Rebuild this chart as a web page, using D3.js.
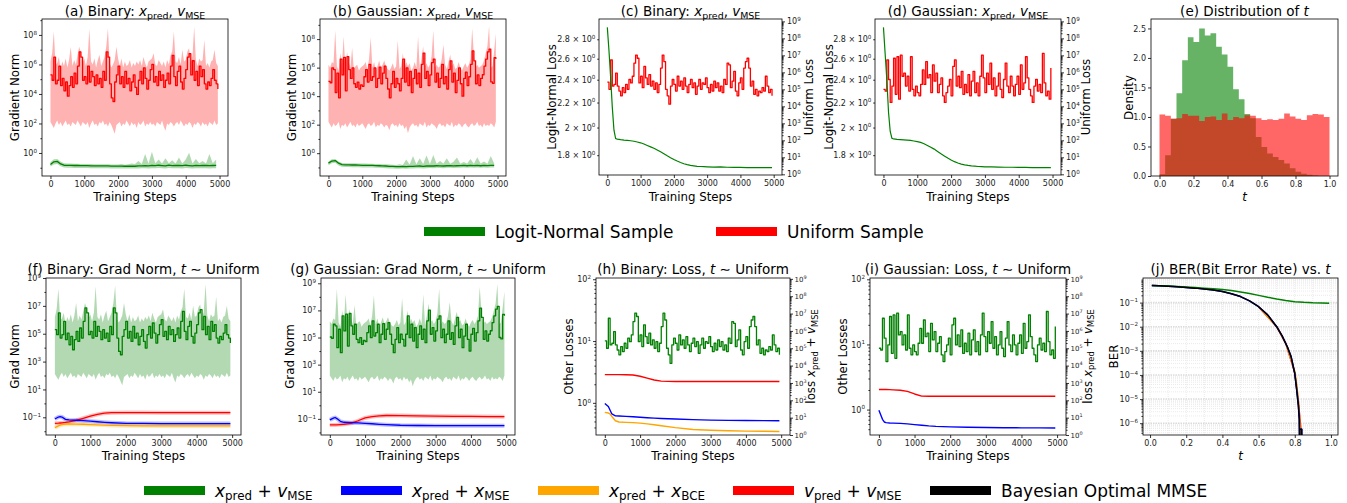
<!DOCTYPE html>
<html><head><meta charset="utf-8">
<script src="https://cdn.jsdelivr.net/npm/d3@7"></script>
<style>
body{margin:0;background:#fff;}
text{white-space:pre;}
</style></head><body>
<script>
// ---------- data (log10 values unless noted) ----------
const stepsFine = d3.range(0, 5000, 50);    // 100 logged steps
const stepsCoarse = d3.range(0, 5000, 100); // 50 logged steps

// grad norm, binary, t ~ Uniform, x_pred + v_MSE  -> (a) red, (f) green
const gradUniBin = [5.29,4.93,6.49,4.69,4.93,5.89,4.57,5.05,4.21,4.81,
 3.85,4.57,5.17,4.45,5.41,4.69,5.89,6.85,6.49,4.93,
 5.17,4.69,5.89,4.81,5.53,5.17,4.57,5.29,4.69,5.05,
 4.45,5.53,4.93,6.85,6.49,4.69,3.73,3.49,4.81,5.29,
 5.89,4.69,5.17,4.45,5.53,4.69,5.05,4.21,4.81,5.29,
 4.45,3.97,4.93,5.53,4.69,5.77,5.05,4.33,4.93,5.65,
 6.01,4.81,5.17,4.57,5.53,4.93,5.29,4.45,4.93,5.41,
 4.69,5.89,6.61,5.17,4.57,5.53,5.89,4.81,4.33,5.05,
 5.65,6.49,6.73,5.29,6.25,4.93,5.53,4.57,5.89,5.17,
 5.65,4.69,4.33,4.81,4.57,5.05,5.65,4.93,4.69,4.33];
const gradUniBinHi = [6.2,6.76,8.23,6.0,6.1,6.5,5.7,6.2,5.9,6.4,
 5.8,6.3,7.2,5.9,6.3,6.0,6.6,7.2,6.8,6.1,
 6.4,5.9,6.5,8.4,6.2,6.0,6.4,5.8,6.3,6.65,
 5.9,6.2,6.5,7.2,8.45,6.1,5.8,6.0,6.3,7.2,
 6.4,5.9,6.4,5.8,6.2,5.9,6.0,6.3,5.8,6.1,
 5.9,6.2,6.0,6.3,5.9,6.5,6.1,5.8,6.2,6.3,
 6.4,6.76,6.0,5.9,6.3,6.1,5.9,6.2,5.8,6.3,
 6.0,6.6,6.9,8.23,6.2,6.1,6.5,6.0,7.0,6.2,
 6.3,6.9,7.1,6.1,6.6,8.56,6.3,5.9,6.4,6.2,
 6.3,7.66,5.9,6.1,5.8,6.2,6.3,7.0,6.1,5.9];
const gradUniBinLo = [2.1,1.9,1.7,2.0,2.2,1.9,2.1,1.8,2.0,2.2,
 1.9,2.0,1.8,2.1,2.0,1.9,2.2,2.0,1.8,2.1,
 2.0,1.9,2.1,1.7,2.0,2.2,1.9,2.0,1.8,2.1,
 2.0,2.2,1.9,2.0,1.8,2.1,1.9,1.6,1.3,1.9,
 2.0,2.1,1.8,2.0,1.9,2.2,2.0,1.8,2.1,1.9,
 2.0,1.7,2.1,1.9,2.0,2.2,1.8,2.0,1.9,2.1,
 1.9,2.0,1.8,2.1,2.0,1.9,2.2,1.8,1.5,2.0,
 1.9,2.1,2.0,1.8,2.0,2.1,1.9,2.2,2.0,1.8,
 2.0,1.9,2.1,2.0,1.7,2.0,1.9,2.1,2.0,1.8,
 2.1,1.9,2.0,1.8,2.1,2.0,1.9,2.2,1.9,2.0];

// grad norm, gaussian, t ~ Uniform -> (b) red, (g) green
const gradUniGau = [5.04,4.94,5.98,5.86,4.25,5.61,3.88,6.60,5.49,6.72,
 4.37,6.77,5.86,5.24,5.98,4.87,4.62,4.99,4.50,4.79,
 4.69,5.36,5.86,4.99,6.23,5.11,5.36,5.98,4.62,5.24,
 6.03,4.87,5.61,6.10,5.24,4.50,3.88,4.87,5.73,4.62,
 5.24,4.87,4.37,5.24,6.60,4.99,5.98,4.74,5.73,4.25,
 5.24,5.86,4.87,5.61,4.62,6.23,7.02,5.24,5.73,4.74,
 5.49,6.35,6.60,4.99,5.61,4.62,5.24,6.23,4.87,5.36,
 4.50,5.86,6.48,4.99,5.61,4.25,5.11,5.98,4.87,4.00,
 5.24,5.68,4.74,5.36,6.23,7.17,6.48,4.87,5.49,4.74,
 5.24,5.50,6.10,6.60,7.10,7.30,5.00,4.90,6.70,6.60];
const gradUniGauHi = [6.2,6.0,6.4,6.3,8.6,6.1,5.8,7.0,6.2,8.2,
 5.9,7.1,6.4,6.0,7.4,5.9,6.1,6.2,5.8,6.0,
 6.1,6.2,6.4,5.9,6.6,8.1,6.0,6.4,5.8,6.1,
 6.5,6.0,6.2,6.5,6.1,5.9,5.8,6.0,6.3,5.9,
 6.1,7.9,5.9,6.1,7.0,6.0,6.4,6.1,6.3,5.8,
 6.0,6.4,6.0,8.2,5.9,6.6,7.5,6.1,6.3,6.0,
 6.2,6.8,8.6,6.0,6.2,6.0,6.1,6.6,7.6,6.2,
 5.9,6.4,6.9,6.1,6.3,5.9,6.0,6.4,6.0,5.8,
 6.1,6.3,6.0,6.2,6.6,8.75,6.9,6.0,6.2,6.0,
 6.1,6.2,6.5,7.0,7.5,8.94,6.0,6.1,7.2,8.4];
const gradUniGauLo = [2.2,2.0,1.8,2.1,1.9,2.0,2.2,1.7,2.0,1.9,
 2.1,1.8,2.0,2.2,1.9,2.0,1.8,2.1,1.9,2.0,
 2.1,1.9,1.7,2.0,2.1,1.9,2.0,2.2,1.8,2.0,
 1.9,2.1,2.0,1.8,2.0,1.9,1.6,2.0,2.1,1.9,
 2.0,1.8,2.1,1.9,2.0,1.7,1.9,1.4,1.8,2.0,
 2.1,1.9,2.0,1.8,2.1,2.0,1.9,2.2,1.8,2.0,
 1.9,2.1,2.0,1.9,1.7,2.0,2.1,1.9,2.0,1.8,
 2.1,2.0,1.9,2.2,1.8,2.0,1.9,2.1,2.0,1.8,
 2.0,2.1,1.9,1.8,2.0,2.1,1.9,2.0,2.2,1.9,
 2.0,1.8,2.1,1.9,2.0,1.9,2.1,2.0,1.8,2.2];

// grad norm, t ~ Logit-Normal -> (a), (b) green
const gradLNBin = [-0.78,-0.60,-0.57,-0.74,-0.83,-0.84,-0.84,-0.85,-0.85,-0.86,
 -0.86,-0.86,-0.87,-0.87,-0.87,-0.88,-0.88,-0.88,-0.89,-0.89,
 -0.89,-0.89,-0.90,-0.90,-0.89,-0.90,-0.88,-0.87,-0.85,-0.88,
 -0.84,-0.86,-0.83,-0.85,-0.87,-0.82,-0.86,-0.84,-0.85,-0.86,
 -0.83,-0.85,-0.87,-0.84,-0.86,-0.85,-0.84,-0.86,-0.85,-0.84];
const gradLNBinHi = [-0.62,-0.42,-0.40,-0.58,-0.70,-0.72,-0.72,-0.73,-0.73,-0.74,
 -0.74,-0.75,-0.75,-0.76,-0.76,-0.77,-0.77,-0.77,-0.78,-0.78,
 -0.78,-0.75,-0.79,-0.76,-0.72,-0.74,-0.55,-0.74,-0.07,-0.72,
 0.09,-0.70,-0.45,-0.72,-0.35,-0.70,-0.50,-0.72,-0.30,-0.71,
 -0.45,0.02,-0.72,-0.40,-0.70,-0.55,-0.72,-0.07,-0.70,-0.45];
const gradLNBinLo = [-0.92,-0.78,-0.74,-0.90,-0.98,-1.00,-1.00,-1.01,-1.01,-1.02,
 -1.02,-1.02,-1.03,-1.03,-1.03,-1.04,-1.04,-1.04,-1.05,-1.05,
 -1.05,-1.05,-1.06,-1.06,-1.05,-1.06,-1.05,-1.04,-1.03,-1.05,
 -1.03,-1.04,-1.02,-1.04,-1.05,-1.02,-1.04,-1.03,-1.04,-1.05,
 -1.02,-1.04,-1.05,-1.03,-1.04,-1.04,-1.03,-1.05,-1.04,-1.03];
const gradLNGau = [-0.70,-0.55,-0.52,-0.70,-0.80,-0.82,-0.82,-0.83,-0.83,-0.84,
 -0.85,-0.85,-0.86,-0.86,-0.87,-0.88,-0.89,-0.90,-0.92,-0.93,
 -0.94,-0.94,-0.93,-0.94,-0.92,-0.93,-0.91,-0.90,-0.92,-0.90,
 -0.89,-0.90,-0.88,-0.89,-0.90,-0.88,-0.87,-0.89,-0.88,-0.87,
 -0.86,-0.88,-0.86,-0.87,-0.86,-0.88,-0.86,-0.87,-0.86,-0.85];
const gradLNGauHi = [-0.58,-0.42,-0.40,-0.58,-0.68,-0.70,-0.70,-0.71,-0.71,-0.72,
 -0.73,-0.73,-0.74,-0.74,-0.75,-0.76,-0.77,-0.78,-0.80,-0.81,
 -0.82,-0.78,-0.82,-0.45,-0.80,-0.20,-0.78,-0.35,-0.76,-0.16,
 -0.75,-0.12,-0.74,-0.55,-0.73,-0.35,-0.74,-0.60,-0.30,-0.74,
 -0.62,-0.73,-0.40,-0.74,-0.28,-0.73,-0.58,-0.74,-0.20,-0.72];
const gradLNGauLo = [-0.85,-0.70,-0.67,-0.86,-0.95,-0.97,-0.97,-0.98,-0.98,-0.99,
 -1.00,-1.00,-1.01,-1.01,-1.02,-1.03,-1.04,-1.05,-1.07,-1.08,
 -1.09,-1.09,-1.08,-1.09,-1.07,-1.08,-1.06,-1.05,-1.07,-1.05,
 -1.04,-1.05,-1.03,-1.04,-1.05,-1.03,-1.02,-1.04,-1.03,-1.02,
 -1.01,-1.03,-1.01,-1.02,-1.01,-1.03,-1.01,-1.02,-1.01,-1.00];

// loss, t ~ Uniform, x_pred + v_MSE -> (c) red / (h) green, (d) red / (i) green
const lossUniBin = [5.42,5.00,6.73,5.19,5.29,5.96,5.19,4.90,4.62,5.10,
 4.81,5.29,5.00,5.58,5.38,5.77,6.54,7.02,6.83,5.38,
 5.77,5.10,6.35,5.67,5.29,5.87,5.19,5.48,5.00,5.38,
 4.81,5.29,6.25,7.02,6.63,5.00,4.62,4.13,5.19,5.58,
 5.29,4.90,5.77,5.19,5.48,5.00,5.67,5.19,4.81,5.29,
 5.58,5.10,5.38,4.71,5.19,5.58,5.00,5.38,5.29,5.67,
 5.10,4.81,5.29,4.90,5.48,5.10,5.38,4.90,5.19,4.81,
 5.58,5.29,6.54,6.44,5.10,5.48,6.06,4.90,4.62,5.38,
 5.67,5.00,6.25,6.63,6.83,6.25,5.19,5.48,4.71,5.00,
 4.62,4.90,4.81,5.10,4.90,5.77,5.19,4.81,5.00,4.62];
const lossUniGau = [5.00,4.90,6.73,5.58,4.23,5.19,6.83,4.71,6.92,4.42,
 7.02,5.77,5.96,5.19,5.77,4.90,6.92,5.00,4.62,5.19,
 4.81,4.62,5.29,6.15,5.29,6.63,5.67,5.87,4.81,6.44,
 5.48,5.96,4.81,5.29,5.67,4.62,4.23,4.81,5.19,5.58,
 4.62,6.35,6.73,5.19,5.77,5.10,6.06,4.71,5.29,4.81,
 5.87,4.62,5.48,6.06,4.81,5.38,4.62,5.77,7.02,5.67,
 4.81,5.96,5.29,6.54,5.00,5.67,4.62,5.19,5.96,5.00,
 4.52,5.58,6.54,5.19,4.81,5.77,5.19,4.62,5.29,5.77,
 4.71,6.44,5.00,5.38,6.92,5.67,5.00,4.62,4.23,5.19,
 5.58,4.90,5.29,4.81,7.12,5.38,4.62,4.90,4.42,6.25];

// loss, t ~ Logit-Normal (linear values) -> (c), (d) green
const lossLNSteps = [0,50,100,150,200,250,300,400,500,600,700,800,900,1000,1100,1200,1300,1400,1500,1600,1700,1800,1900,2000,2100,2200,2300,2400,2500,2600,2700,2800,2900,3000,3200,3400,3600,3800,4000,4200,4400,4600,4800,4950];
const lossLNBin = [2.93,2.68,2.42,2.16,1.98,1.918,1.914,1.910,1.907,1.905,1.902,1.898,1.893,1.887,1.878,1.868,1.858,1.848,1.836,1.823,1.810,1.796,1.783,1.771,1.760,1.750,1.742,1.736,1.731,1.728,1.725,1.724,1.723,1.722,1.720,1.721,1.719,1.718,1.718,1.717,1.717,1.716,1.716,1.716];
const lossLNGau = [2.93,2.65,2.40,2.12,1.97,1.920,1.915,1.912,1.910,1.908,1.906,1.904,1.900,1.896,1.890,1.880,1.868,1.855,1.842,1.826,1.810,1.795,1.780,1.767,1.756,1.747,1.740,1.735,1.731,1.728,1.726,1.724,1.723,1.722,1.721,1.720,1.719,1.719,1.718,1.718,1.717,1.717,1.717,1.717];

// (e) histogram densities, 30 bins on [0, 1]
const tBinEdges = d3.range(31).map(i => i / 30);
const densLN = [0.03,0.35,0.97,1.40,1.96,2.35,2.27,2.50,2.38,2.42,2.19,2.06,1.85,1.47,1.30,1.05,0.98,0.66,0.49,0.38,0.32,0.27,0.21,0.13,0.07,0.04,0.02,0.01,0.0,0.0];
const densUni = [1.04,1.02,0.97,0.98,1.05,1.02,1.02,0.93,1.00,1.01,0.95,1.06,0.95,1.00,0.98,1.03,1.02,0.98,0.95,0.96,0.95,0.97,1.06,1.01,0.97,0.95,1.03,1.05,1.04,1.00];

// smooth baselines, t ~ Uniform
const smoothSteps = [0,100,150,200,300,400,600,800,1000,1200,1400,1600,2000,2500,3000,3500,4000,4500,4950];
const fRed    = [-1.43,-1.42,-1.41,-1.40,-1.37,-1.33,-1.22,-1.07,-0.92,-0.79,-0.70,-0.67,-0.66,-0.66,-0.67,-0.67,-0.67,-0.67,-0.67];
const fBlue   = [-1.12,-0.98,-0.95,-0.98,-1.15,-1.19,-1.21,-1.24,-1.28,-1.32,-1.36,-1.39,-1.43,-1.44,-1.45,-1.45,-1.45,-1.45,-1.45];
const fOrange = [-1.74,-1.62,-1.57,-1.53,-1.49,-1.48,-1.49,-1.50,-1.52,-1.54,-1.56,-1.58,-1.60,-1.61,-1.62,-1.62,-1.62,-1.62,-1.62];
const gRed    = [-1.45,-1.45,-1.45,-1.44,-1.42,-1.40,-1.33,-1.14,-0.93,-0.83,-0.78,-0.75,-0.76,-0.78,-0.80,-0.81,-0.82,-0.83,-0.84];
const gBlue   = [-1.07,-0.95,-0.90,-0.98,-1.18,-1.25,-1.28,-1.30,-1.33,-1.36,-1.40,-1.43,-1.47,-1.49,-1.50,-1.50,-1.50,-1.50,-1.50];
const hRed    = [0.457,0.457,0.457,0.457,0.457,0.456,0.455,0.450,0.430,0.400,0.370,0.352,0.346,0.346,0.346,0.346,0.346,0.346,0.346];
const hBlue   = [-0.01,-0.06,-0.12,-0.18,-0.21,-0.213,-0.218,-0.225,-0.232,-0.24,-0.247,-0.253,-0.262,-0.272,-0.279,-0.283,-0.286,-0.288,-0.289];
const hOrange = [-0.154,-0.165,-0.18,-0.22,-0.29,-0.31,-0.316,-0.32,-0.328,-0.34,-0.355,-0.37,-0.40,-0.43,-0.444,-0.452,-0.457,-0.46,-0.463];
const iRed    = [0.308,0.308,0.308,0.308,0.306,0.303,0.297,0.280,0.240,0.207,0.205,0.205,0.205,0.205,0.205,0.205,0.205,0.205,0.205];
const iBlue   = [-0.01,-0.15,-0.19,-0.20,-0.205,-0.208,-0.212,-0.22,-0.23,-0.24,-0.25,-0.257,-0.265,-0.272,-0.276,-0.278,-0.28,-0.281,-0.282];

// (j) BER vs t (log10)
const berGreenT = [0.01,0.05,0.10,0.15,0.20,0.25,0.30,0.35,0.40,0.45,0.50,0.55,0.60,0.65,0.70,0.75,0.80,0.85,0.90,0.95,0.99];
const berGreen  = [-0.29,-0.30,-0.31,-0.33,-0.35,-0.37,-0.40,-0.43,-0.46,-0.50,-0.56,-0.62,-0.70,-0.78,-0.85,-0.91,-0.96,-0.99,-1.01,-1.02,-1.03];
const berBlackT = [0.01,0.05,0.10,0.15,0.20,0.25,0.30,0.35,0.40,0.45,0.50,0.55,0.60,0.65,0.70,0.73,0.76,0.78,0.80,0.81,0.82,0.825,0.8275,0.8276,0.8385,0.8386];
const berBlack  = [-0.29,-0.30,-0.32,-0.34,-0.37,-0.40,-0.44,-0.48,-0.54,-0.63,-0.75,-0.93,-1.17,-1.51,-2.00,-2.38,-2.85,-3.25,-3.94,-4.57,-5.26,-5.82,-7.5,-6.25,-6.25,-7.5];
const berOrangeT = [0.60,0.70,0.75,0.80,0.81,0.815,0.82,0.825,0.83,0.832];
const berOrange  = [-1.17,-2.00,-2.69,-3.85,-4.35,-4.70,-5.10,-5.60,-6.30,-7.5];
const berRedT = [0.60,0.70,0.75,0.80,0.81,0.82,0.826,0.832,0.836,0.837];
const berRed  = [-1.17,-2.00,-2.69,-3.90,-4.45,-5.10,-5.60,-6.10,-6.45,-7.5];

// ---------- drawing ----------
const FONT = '"DejaVu Sans", sans-serif';
const TICK_FS = 8, LABEL_FS = 11.8, TITLE_FS = 13.5, LEG_FS = 17;
const GREEN = '#008000', RED = '#ff0000', BLUE = '#0000ff', ORANGE = '#ffa500';
const STEP_X = [-250, 5250];

const svg = d3.select('body').append('svg').attr('width', 1347).attr('height', 503)
  .style('font-family', FONT);

// mathtext-ish: parts = [[text, kind]] kind: '' | 'i' | 'sub' | 'sup'
function mtext(t, parts, fs) {
  let shift = 0;
  parts.forEach(([s, kind]) => {
    let target = 0, size = fs;
    if (kind === 'sub') { target = 0.22 * fs; size = 0.7 * fs; }
    if (kind === 'sup') { target = -0.42 * fs; size = 0.7 * fs; }
    const sp = t.append('tspan').text(s).attr('font-size', size);
    if (target !== shift) sp.attr('dy', target - shift);
    if (kind === 'i') sp.attr('font-style', 'italic');
    shift = target;
  });
}
const pow10 = k => [['10', ''], [String(k).replace('-', '\u2212'), 'sup']];
const X = (s) => [['x', 'i'], [s, 'sub']];
const V = (s) => [['v', 'i'], [s, 'sub']];
const p10 = v => Math.pow(10, v);

const LAYOUT = {
  a: {l: 42, r: 228, t: 19, b: 176},
  b: {l: 320, r: 506, t: 19, b: 176},
  c: {l: 599, r: 782, t: 19, b: 175},
  d: {l: 875, r: 1061, t: 19, b: 175},
  e: {l: 1151, r: 1338, t: 19, b: 176},
  f: {l: 46, r: 241, t: 278, b: 435},
  g: {l: 321, r: 515, t: 278, b: 435},
  h: {l: 596, r: 790, t: 278, b: 435},
  i: {l: 870, r: 1066, t: 278, b: 435},
  j: {l: 1143, r: 1338, t: 278, b: 435}
};

function panel(key, xd, yd, ylog, y2d) {
  const p = LAYOUT[key];
  const x = d3.scaleLinear().domain(xd).range([p.l, p.r]);
  const y = (ylog ? d3.scaleLog() : d3.scaleLinear()).domain(yd).range([p.b, p.t]);
  const y2 = y2d ? d3.scaleLog().domain(y2d).range([p.b, p.t]) : null;
  svg.append('clipPath').attr('id', 'clip-' + key).append('rect')
    .attr('x', p.l).attr('y', p.t).attr('width', p.r - p.l).attr('height', p.b - p.t);
  const plot = svg.append('g').attr('clip-path', `url(#clip-${key})`);
  return {key, p, x, y, y2, plot};
}

function styleAxis(a, fs) {
  a.select('.domain').remove();
  a.attr('font-family', null).attr('font-size', fs || TICK_FS);
  a.selectAll('.tick line').attr('stroke', '#000').attr('stroke-width', 0.8);
  a.selectAll('.tick text').attr('fill', '#222');
  return a;
}
function xAxis(P, ticks, fmt) {
  styleAxis(svg.append('g').attr('transform', `translate(0,${P.p.b})`)
    .call(d3.axisBottom(P.x).tickValues(ticks).tickSize(3).tickPadding(2).tickFormat(fmt)));
}
function linAxisY(P, ticks, fmt) {
  styleAxis(svg.append('g').attr('transform', `translate(${P.p.l},0)`)
    .call(d3.axisLeft(P.y).tickValues(ticks).tickSize(3).tickPadding(2).tickFormat(fmt)));
}
function logAxis(P, scale, exps, side, minor, fs) {
  fs = fs || TICK_FS;
  const mk = side === 'left' ? d3.axisLeft : d3.axisRight;
  const tx = side === 'left' ? P.p.l : P.p.r;
  const a = styleAxis(svg.append('g').attr('transform', `translate(${tx},0)`)
    .call(mk(scale).tickValues(exps.map(p10)).tickSize(3).tickPadding(fs < TICK_FS ? 1.5 : 2).tickFormat(() => '')), fs);
  a.selectAll('.tick text').each(function(d, i) { mtext(d3.select(this), pow10(exps[i]), fs); });
  if (minor && minor.length) {
    styleAxis(svg.append('g').attr('transform', `translate(${tx},0)`)
      .call(mk(scale).tickValues(minor).tickSize(1.6).tickFormat(() => '')));
  }
}
function decadeMinors(lo, hi) {
  const out = [];
  for (let e = Math.floor(lo); e <= Math.ceil(hi); e++)
    for (let k = 2; k <= 9; k++) { const v = k * p10(e); if (Math.log10(v) > lo && Math.log10(v) < hi) out.push(v); }
  return out;
}
function frame(P) {
  svg.append('rect').attr('x', P.p.l).attr('y', P.p.t).attr('width', P.p.r - P.p.l)
    .attr('height', P.p.b - P.p.t).attr('fill', 'none').attr('stroke', '#000').attr('stroke-width', 0.8);
}
function title(P, parts, y) {
  const t = svg.append('text').attr('x', (P.p.l + P.p.r) / 2).attr('y', y)
    .attr('text-anchor', 'middle').attr('font-size', TITLE_FS).attr('fill', '#000');
  mtext(t, parts, TITLE_FS);
}
function yLabel(cx, P, parts) {
  const cy = (P.p.t + P.p.b) / 2;
  const t = svg.append('text').attr('transform', `translate(${cx + 0.36 * LABEL_FS},${cy}) rotate(-90)`)
    .attr('text-anchor', 'middle').attr('font-size', LABEL_FS).attr('fill', '#000');
  mtext(t, parts, LABEL_FS);
}
function xLabel(P, parts, y) {
  const t = svg.append('text').attr('x', (P.p.l + P.p.r) / 2).attr('y', y)
    .attr('text-anchor', 'middle').attr('font-size', LABEL_FS).attr('fill', '#000');
  mtext(t, parts, LABEL_FS);
}
function logLine(P, scale, xs, ys, color, w, opacity, curve) {
  P.plot.append('path').datum(ys)
    .attr('d', d3.line().curve(curve || d3.curveLinear).x((d, i) => P.x(xs[i])).y(d => scale(p10(d))))
    .attr('fill', 'none').attr('stroke', color).attr('stroke-width', w)
    .attr('stroke-opacity', opacity == null ? 1 : opacity).attr('stroke-linejoin', 'round');
}
// noisy smoothed training curves look like held steps in the reference
const noisyLine = (P, scale, xs, ys, color, w) => logLine(P, scale, xs, ys, color, w, 1, d3.curveStepAfter);
function logBand(P, scale, xs, lo, hi, color, opacity) {
  P.plot.append('path').datum(hi)
    .attr('d', d3.area().x((d, i) => P.x(xs[i])).y0((d, i) => scale(p10(lo[i]))).y1(d => scale(p10(d))))
    .attr('fill', color).attr('fill-opacity', opacity).attr('stroke', 'none');
}
const stepTicks = [0, 1000, 2000, 3000, 4000, 5000];
const TRAIN = [['Training Steps', '']];

// ----- (a) & (b): gradient norms -----
[['a', gradUniBin, gradUniBinLo, gradUniBinHi, gradLNBin, gradLNBinLo, gradLNBinHi, [-1.56, 9.08], 'Binary', 15],
 ['b', gradUniGau, gradUniGauLo, gradUniGauHi, gradLNGau, gradLNGauLo, gradLNGauHi, [-1.6, 9.41], 'Gaussian', 291.7]]
.forEach(([k, uni, uLo, uHi, ln, lLo, lHi, yd, name, lx]) => {
  const P = panel(k, STEP_X, yd.map(p10), true);
  logBand(P, P.y, stepsFine, uLo, uHi, RED, 0.3);
  logBand(P, P.y, stepsCoarse, lLo, lHi, GREEN, 0.3);
  noisyLine(P, P.y, stepsFine, uni, RED, 1.3);
  logLine(P, P.y, stepsCoarse, ln, GREEN, 1.3);
  frame(P);
  xAxis(P, stepTicks, d3.format('d'));
  logAxis(P, P.y, [0, 2, 4, 6, 8], 'left', [-1, 1, 3, 5, 7, 9].map(p10));
  title(P, [[`(${k}) ${name}: `, ''], ...X('pred'), [', ', ''], ...V('MSE')], 16);
  yLabel(lx, P, [['Gradient Norm', '']]);
  xLabel(P, TRAIN, 201);
});

// ----- (c) & (d): losses -----
[['c', lossLNBin, lossUniBin, 'Binary', 551.7, 808.3],
 ['d', lossLNGau, lossUniGau, 'Gaussian', 828.3, 1086]]
.forEach(([k, ln, uni, name, lx, rx]) => {
  const P = panel(k, STEP_X, [1.669, 3.025], true, [p10(-0.04), p10(9.14)]);
  noisyLine(P, P.y2, stepsFine, uni, RED, 1.3);
  P.plot.append('path').datum(ln)
    .attr('d', d3.line().x((d, i) => P.x(lossLNSteps[i])).y(d => P.y(d)))
    .attr('fill', 'none').attr('stroke', GREEN).attr('stroke-width', 1.2);
  frame(P);
  xAxis(P, stepTicks, d3.format('d'));
  const lt = [1.8, 2, 2.2, 2.4, 2.6, 2.8];
  const a = styleAxis(svg.append('g').attr('transform', `translate(${P.p.l},0)`)
    .call(d3.axisLeft(P.y).tickValues(lt).tickSize(1.8).tickPadding(1.8).tickFormat(() => '')));
  a.selectAll('.tick text').each(function(d) {
    mtext(d3.select(this), [[`${d} \u00d7 10`, ''], ['0', 'sup']], TICK_FS);
  });
  logAxis(P, P.y2, d3.range(0, 10), 'right', decadeMinors(-0.04, 9.14));
  title(P, [[`(${k}) ${name}: `, ''], ...X('pred'), [', ', ''], ...V('MSE')], 16);
  yLabel(lx, P, [['Logit-Normal Loss', '']]);
  yLabel(rx, P, [['Uniform Loss', '']]);
  xLabel(P, TRAIN, 201);
});

// ----- (e): distribution of t -----
{
  const P = panel('e', [-0.05, 1.05], [0, 2.66], false);
  const hist = (dens, color) => {
    const vals = dens.concat([dens[dens.length - 1]]);
    P.plot.append('path').datum(vals)
      .attr('d', d3.area().curve(d3.curveStepAfter).x((d, i) => P.x(tBinEdges[i])).y0(P.y(0)).y1(d => P.y(d)))
      .attr('fill', color).attr('fill-opacity', 0.6);
  };
  hist(densLN, GREEN);
  hist(densUni, RED);
  frame(P);
  xAxis(P, [0, 0.2, 0.4, 0.6, 0.8, 1.0], d3.format('.1f'));
  linAxisY(P, [0, 0.5, 1.0, 1.5, 2.0, 2.5], d3.format('.1f'));
  title(P, [['(e) Distribution of ', ''], ['t', 'i']], 16);
  yLabel(1128.3, P, [['Density', '']]);
  xLabel(P, [['t', 'i']], 201);
}

// ----- (f) & (g): grad norm, t ~ Uniform -----
[['f', gradUniBin, gradUniBinLo, gradUniBinHi, fRed, fBlue, fOrange, [-2.27, 9.0], 'Binary', 15],
 ['g', gradUniGau, gradUniGauLo, gradUniGauHi, gRed, gBlue, null, [-2.19, 9.39], 'Gaussian', 290]]
.forEach(([k, uni, uLo, uHi, r, bl, o, yd, name, lx]) => {
  const P = panel(k, STEP_X, yd.map(p10), true);
  logBand(P, P.y, stepsFine, uLo, uHi, GREEN, 0.3);
  noisyLine(P, P.y, stepsFine, uni, GREEN, 1.3);
  const thin = [[r, RED], [bl, BLUE]].concat(o ? [[o, ORANGE]] : []);
  thin.forEach(([s, c]) => logLine(P, P.y, smoothSteps, s, c, 4, 0.25));
  thin.forEach(([s, c]) => logLine(P, P.y, smoothSteps, s, c, 1.3));
  frame(P);
  xAxis(P, stepTicks, d3.format('d'));
  logAxis(P, P.y, [-1, 1, 3, 5, 7, 9], 'left', [-2, 0, 2, 4, 6, 8].map(p10));
  title(P, [[`(${k}) ${name}: Grad Norm, `, ''], ['t', 'i'], [' \u223c Uniform', '']], 274);
  yLabel(lx, P, [['Grad Norm', '']]);
  xLabel(P, TRAIN, 460);
});

// ----- (h) & (i): losses, t ~ Uniform -----
[['h', lossUniBin, hRed, hBlue, hOrange, [-0.52, 2.02], 'Binary', 568.3, 811],
 ['i', lossUniGau, iRed, iBlue, null, [-0.39, 2.02], 'Gaussian', 842.7, 1087.5]]
.forEach(([k, uni, r, bl, o, yd, name, lx, rx]) => {
  const P = panel(k, STEP_X, yd.map(p10), true, [1, p10(9.05)]);
  noisyLine(P, P.y2, stepsFine, uni, GREEN, 1.3);
  const thin = [[r, RED], [bl, BLUE]].concat(o ? [[o, ORANGE]] : []);
  thin.forEach(([s, c]) => logLine(P, P.y, smoothSteps, s, c, 1.4));
  frame(P);
  xAxis(P, stepTicks, d3.format('d'));
  logAxis(P, P.y, [0, 1, 2], 'left', decadeMinors(yd[0], yd[1]));
  logAxis(P, P.y2, d3.range(0, 10), 'right', decadeMinors(0, 9.05), 7);
  title(P, [[`(${k}) ${name}: Loss, `, ''], ['t', 'i'], [' \u223c Uniform', '']], 274);
  yLabel(lx, P, [['Other Losses', '']]);
  yLabel(rx, P, [['loss ', ''], ...X('pred'), [' + ', ''], ...V('MSE')]);
  xLabel(P, TRAIN, 460);
});

// ----- (j): BER vs t -----
{
  const P = panel('j', [-0.039, 1.039], [p10(-6.49), p10(0.02)], true);
  const grid = P.plot.append('g');
  decadeMinors(-6.49, 0.02).forEach(v => grid.append('line')
    .attr('x1', P.p.l).attr('x2', P.p.r).attr('y1', P.y(v)).attr('y2', P.y(v))
    .attr('stroke', '#ddd').attr('stroke-width', 0.6).attr('stroke-dasharray', '1,1'));
  d3.range(-6, 0).forEach(e => grid.append('line')
    .attr('x1', P.p.l).attr('x2', P.p.r).attr('y1', P.y(p10(e))).attr('y2', P.y(p10(e)))
    .attr('stroke', '#ccc').attr('stroke-width', 1.6).attr('stroke-dasharray', '1.5,1').attr('stroke-opacity', 0.7));
  d3.range(0, 1.01, 0.1).forEach(t => grid.append('line')
    .attr('x1', P.x(t)).attr('x2', P.x(t)).attr('y1', P.p.t).attr('y2', P.p.b)
    .attr('stroke', '#ddd').attr('stroke-width', 0.6).attr('stroke-dasharray', '1,1'));
  logLine(P, P.y, berRedT, berRed, RED, 1.5);
  logLine(P, P.y, berOrangeT, berOrange, ORANGE, 1.5);
  logLine(P, P.y, berBlackT, berBlack, BLUE, 1.5);
  logLine(P, P.y, berGreenT, berGreen, GREEN, 1.5);
  logLine(P, P.y, berBlackT, berBlack, '#000', 1.5);
  frame(P);
  xAxis(P, [0, 0.2, 0.4, 0.6, 0.8, 1.0], d3.format('.1f'));
  logAxis(P, P.y, [-6, -5, -4, -3, -2, -1], 'left', decadeMinors(-6.49, 0.02));
  title(P, [['(j) BER(Bit Error Rate) vs. ', ''], ['t', 'i']], 274);
  yLabel(1113.3, P, [['BER', '']]);
  xLabel(P, [['t', 'i']], 460);
}

// ----- legends -----
function legendItem(x, y, color, parts) {
  svg.append('line').attr('x1', x).attr('x2', x + 61).attr('y1', y).attr('y2', y)
    .attr('stroke', color).attr('stroke-width', 9);
  const t = svg.append('text').attr('x', x + 71).attr('y', y + 0.36 * LEG_FS)
    .attr('font-size', LEG_FS).attr('fill', '#000');
  mtext(t, parts, LEG_FS);
}
legendItem(424, 231.5, GREEN, [['Logit-Normal Sample', '']]);
legendItem(716, 231.5, RED, [['Uniform Sample', '']]);
legendItem(144, 490.5, GREEN, [...X('pred'), [' + ', ''], ...V('MSE')]);
legendItem(341, 490.5, BLUE, [...X('pred'), [' + ', ''], ...X('MSE')]);
legendItem(538, 490.5, ORANGE, [...X('pred'), [' + ', ''], ...X('BCE')]);
legendItem(733, 490.5, RED, [...V('pred'), [' + ', ''], ...V('MSE')]);
legendItem(930, 490.5, '#000', [['Bayesian Optimal MMSE', '']]);
</script></body></html>
